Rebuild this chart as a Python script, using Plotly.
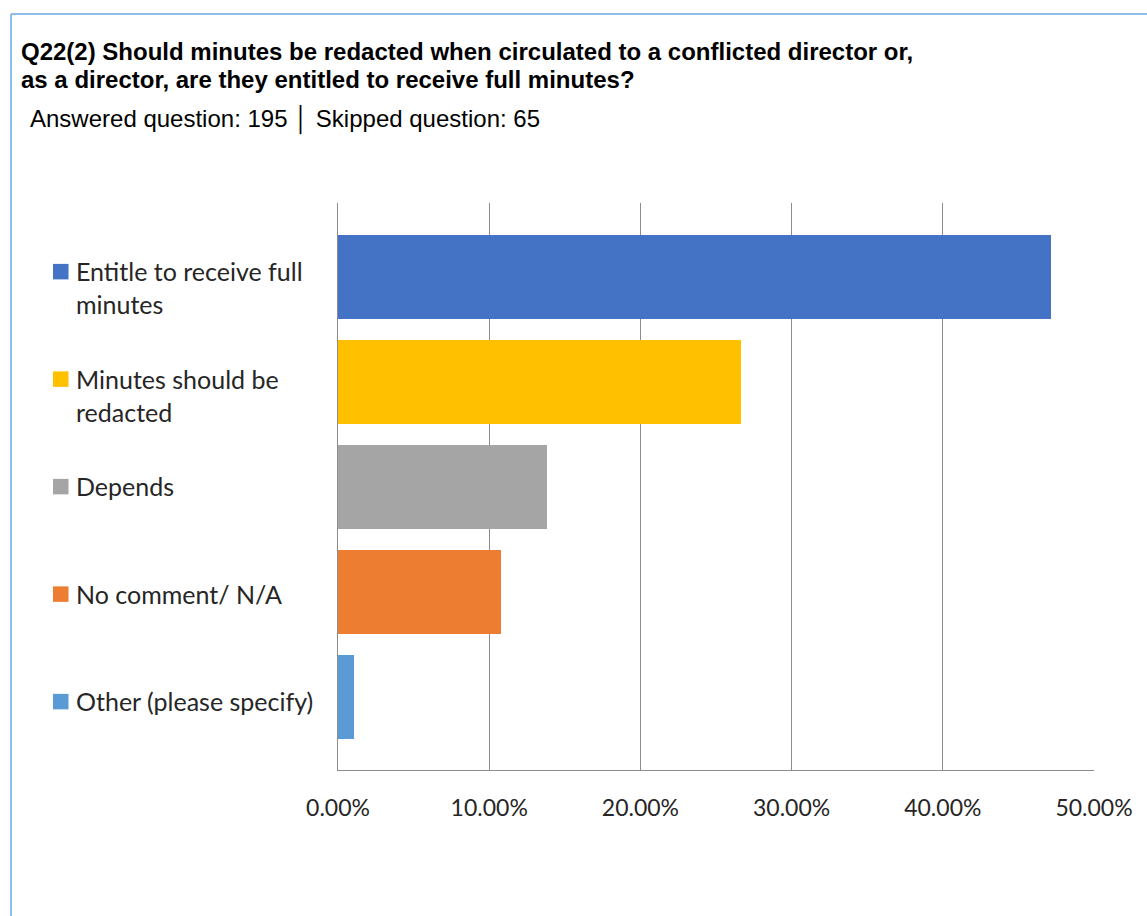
import plotly.graph_objects as go

# Survey responses (share of respondents, %)
categories = [
    "Entitle to receive full minutes",
    "Minutes should be redacted",
    "Depends",
    "No comment/ N/A",
    "Other (please specify)",
]
legend_labels = [
    "Entitle to receive full<br>minutes",
    "Minutes should be<br>redacted",
    "Depends",
    "No comment/ N/A",
    "Other (please specify)",
]
shares = [47.18, 26.67, 13.85, 10.77, 1.03]
colors = ["#4472C4", "#FFC000", "#A5A5A5", "#ED7D31", "#5B9BD5"]
x_ticks = [0, 10, 20, 30, 40, 50]
title_lines = [
    "Q22(2) Should minutes be redacted when circulated to a conflicted director or,",
    "as a director, are they entitled to receive full minutes?",
]
subtitle = "Answered question: 195 │ Skipped question: 65"

W, H = 1147, 916
ML, MR, MT, MB = 338, 53, 203, 146
PW, PH = W - ML - MR, H - MT - MB


def px_x(p):
    return (p - ML) / PW


def px_y(p):
    return (H - MB - p) / PH


fig = go.Figure()
fig.add_trace(go.Bar(
    x=shares,
    y=list(range(len(categories))),
    orientation="h",
    width=0.8,
    marker=dict(color=colors, line=dict(width=0)),
    hovertext=categories,
    showlegend=False,
))

annotations = []
shapes = []
cat_px = 105.2     # pixel height of one category band
entry_px = 107.5   # pixel spacing of legend entries
sq = 15.5
for i, (lab, col) in enumerate(zip(legend_labels, colors)):
    off = -5 + (entry_px - cat_px) * i   # legend first-line offset from bar centre, px
    annotations.append(dict(
        text=lab, xref="paper", yref="y", x=px_x(74), y=i,
        xanchor="left", yanchor="top", yshift=17.5 - off,
        align="left", showarrow=False,
        font=dict(family="Lato", size=25, color="#262626"),
    ))
    c = i + off / cat_px
    shapes.append(dict(
        type="rect", xref="paper", yref="y",
        x0=px_x(53), x1=px_x(53 + sq),
        y0=c - sq / 2 / cat_px, y1=c + sq / 2 / cat_px,
        fillcolor=col, line=dict(width=0), layer="above",
    ))

# Outer frame: left and top edges
shapes.append(dict(type="line", xref="paper", yref="paper",
                   x0=px_x(11), x1=px_x(11), y0=px_y(14), y1=px_y(H + 5),
                   line=dict(color="#6AA8E6", width=1.5)))
shapes.append(dict(type="line", xref="paper", yref="paper",
                   x0=px_x(11), x1=px_x(W + 5), y0=px_y(14), y1=px_y(14),
                   line=dict(color="#6AA8E6", width=1.5)))

for k, line in enumerate(title_lines):
    annotations.append(dict(
        text=f"<b>{line}</b>",
        xref="paper", yref="paper", x=px_x(19), y=px_y(52 + 27 * k),
        xanchor="left", yanchor="middle", align="left", showarrow=False,
        font=dict(family="Liberation Sans", size=24, color="#000000"),
    ))
annotations.append(dict(
    text=subtitle,
    xref="paper", yref="paper", x=px_x(28), y=px_y(120),
    xanchor="left", yanchor="middle", align="left", showarrow=False,
    font=dict(family="Liberation Sans", size=24, color="#000000"),
))

fig.update_layout(
    width=W, height=H,
    margin=dict(l=ML, r=MR, t=MT, b=MB),
    paper_bgcolor="white", plot_bgcolor="white",
    xaxis=dict(
        range=[0, 50], tickvals=x_ticks,
        ticktext=[f"{v:.2f}%" for v in x_ticks],
        showgrid=True, gridcolor="#8C8C8C", gridwidth=1,
        zeroline=False, showline=True, linecolor="#8C8C8C", linewidth=1,
        ticks="", ticklabelstandoff=17,
        tickfont=dict(family="Lato", size=23, color="#262626"),
    ),
    yaxis=dict(
        range=[4.69, -0.70], showticklabels=False, showgrid=False,
        zeroline=False, showline=True, linecolor="#8C8C8C", linewidth=1,
        ticks="",
    ),
    annotations=annotations,
    shapes=shapes,
    bargap=0,
)

fig.write_html("out.html")
